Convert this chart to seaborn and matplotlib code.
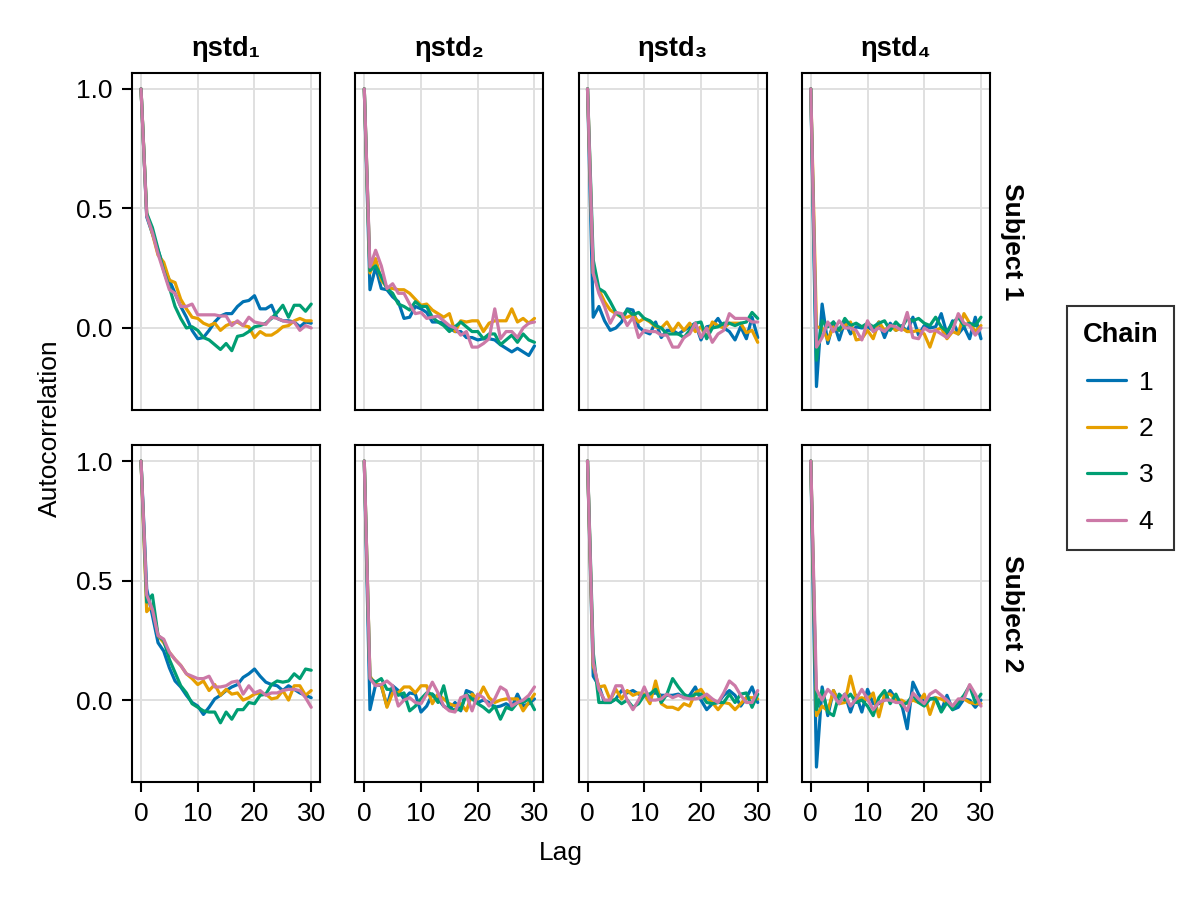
import numpy as np
import pandas as pd
import matplotlib
matplotlib.use("Agg")
import matplotlib.pyplot as plt
import seaborn as sns
from matplotlib.lines import Line2D

params = ["ηstd₁", "ηstd₂", "ηstd₃", "ηstd₄"]
subjects = ["Subject 1", "Subject 2"]
chains = ["1", "2", "3", "4"]
chain_colors = ["#0072B2", "#E69F00", "#009E73", "#CC79A7"]

# autocorrelation per chain (lag 0..30)
s1_eta1 = [
    [1.0, .465, .395, .325, .255, .2, .145, .09, .045, -.01, -.045, -.04, -.01, .025, .05, .06,
     .06, .09, .11, .115, .135, .08, .08, .095, .04, .03, .03, .025, .005, .025, .02],
    [1.0, .48, .395, .305, .275, .2, .19, .12, .08, .045, .04, .02, .01, .02, -.01, .01,
     .02, .025, .01, .005, -.04, -.015, -.03, -.03, -.015, .005, .01, .03, .04, .03, .03],
    [1.0, .48, .42, .33, .24, .17, .09, .04, .0, .005, -.01, -.04, -.05, -.07, -.09, -.065,
     -.095, -.035, -.03, -.015, .005, .01, .02, .04, .065, .095, .045, .095, .095, .07, .1],
    [1.0, .47, .40, .31, .235, .16, .145, .09, .09, .1, .055, .055, .055, .055, .05, .05,
     .01, .03, .01, .045, .025, .02, .015, .045, .04, .03, .025, .025, -.01, .01, .0],
]
s1_eta2 = [
    [1.0, .16, .255, .165, .16, .13, .11, .04, .045, .09, .08, .065, .025, .025, .02, .0,
     -.015, -.015, -.04, -.04, -.05, -.045, -.045, -.05, -.07, -.085, -.1, -.085, -.1, -.115, -.075],
    [1.0, .23, .29, .2, .17, .165, .16, .16, .145, .12, .095, .1, .075, .06, .045, .06,
     -.015, .03, .025, .03, .03, -.015, .02, .03, .03, .03, .08, .025, .04, .02, .04],
    [1.0, .24, .26, .215, .165, .145, .1, .09, .075, .11, .09, .09, .045, .025, .01, -.015,
     .005, .025, .005, -.015, -.015, -.045, -.025, -.025, -.07, -.05, -.03, -.06, -.025, -.05, -.06],
    [1.0, .255, .325, .26, .165, .185, .145, .145, .1, .06, .065, .04, .045, .05, .03, .01,
     .0, -.03, -.015, -.08, -.08, -.065, -.045, .08, -.045, -.015, -.015, -.04, .0, .02, .025],
]
s1_eta3 = [
    [1.0, .045, .09, .03, -.01, .0, .025, .08, .075, .005, -.015, -.025, .025, -.04, -.01, -.01,
     -.025, -.01, .005, .02, -.05, .005, .01, .04, .0, -.015, -.05, .005, -.045, .045, -.04],
    [1.0, .23, .16, .11, .075, .06, .045, .045, .055, .025, .04, .025, .005, .0, .025, -.015,
     .02, -.01, .02, -.015, .005, -.04, .025, .01, .0, .02, .02, .02, -.02, -.01, -.06],
    [1.0, .285, .165, .15, .11, .065, .045, .075, .055, .065, .04, .03, .01, .0, -.025, -.025,
     -.025, -.04, -.01, .02, .025, -.045, .0, .005, .02, .02, .01, .02, .025, .065, .04],
    [1.0, .23, .145, .09, .02, .065, .06, .01, .045, -.04, -.01, -.015, -.015, -.03, -.03, -.08,
     -.08, -.04, -.025, .02, -.04, .0, -.06, -.025, -.01, .06, .04, .04, .04, .025, .025],
]
s1_eta4 = [
    [1.0, -.245, .1, -.065, .025, -.05, .025, -.025, .005, .0, .005, -.01, .025, -.04, .02, -.01,
     .01, -.015, .045, -.03, .01, .0, .005, .06, -.025, .03, -.025, .005, -.045, .045, -.045],
    [1.0, .005, .0, -.05, .005, -.01, .01, .025, -.05, -.045, -.01, -.045, .025, -.01, .01, -.01,
     .0, -.015, -.015, -.01, -.025, -.08, -.01, .0, -.045, -.015, -.025, .06, .02, -.015, .01],
    [1.0, -.135, .03, .005, .025, -.01, .04, .01, .02, .005, .02, .005, .02, .03, -.01, .025,
     .0, .04, .03, .04, .02, .01, .045, .005, -.015, .02, .045, .01, .02, .01, .045],
    [1.0, -.08, -.04, .025, -.015, .03, .0, .0, -.01, -.05, .03, -.015, .0, -.015, .01, .005,
     -.01, .065, -.04, -.045, .0, -.015, -.01, -.025, -.04, -.01, .06, .02, .01, -.03, .0],
]
s2_eta1 = [
    [1.0, .465, .355, .24, .205, .135, .08, .055, .02, -.01, -.025, -.06, -.03, .005, .02, .04,
     .055, .065, .095, .11, .13, .1, .075, .065, .06, .04, .06, .045, .03, .02, .01],
    [1.0, .37, .395, .27, .24, .2, .17, .145, .11, .09, .065, .08, .04, .065, .02, .045,
     .025, .03, .0, .01, .025, .03, .025, .005, .01, .04, .0, .06, .06, .02, .04],
    [1.0, .41, .44, .27, .25, .17, .115, .06, .03, -.015, -.03, -.045, -.05, -.05, -.095, -.05,
     -.08, -.04, -.04, -.01, -.015, .02, .025, .065, .08, .075, .08, .11, .09, .13, .125],
    [1.0, .44, .38, .27, .255, .2, .17, .145, .11, .1, .09, .09, .1, .055, .055, .06,
     .075, .08, .025, .06, .03, .04, .02, .03, .03, .04, .045, .045, .04, .01, -.03],
]
s2_eta2 = [
    [1.0, -.04, .065, .06, -.025, .06, .04, .005, .03, .025, -.05, -.025, .025, .005, -.025, -.04,
     -.01, -.045, .04, .03, -.01, .0, -.01, -.03, -.025, -.015, -.03, .025, -.025, -.015, .005],
    [1.0, .1, .065, .065, -.03, .03, .03, .055, .055, .03, .06, .06, -.015, .025, .005, -.015,
     -.025, -.015, -.045, .025, .005, .055, .01, -.01, .0, .005, .005, .005, -.045, -.01, .025],
    [1.0, .09, .075, .09, .045, .045, .02, .03, -.045, -.025, .005, .03, .025, -.01, .06, -.04,
     -.04, -.04, .025, .005, -.015, -.03, -.05, -.025, -.08, -.03, -.04, -.01, -.01, .005, -.04],
    [1.0, .09, .06, .065, .08, .06, -.025, .0, .01, -.01, -.015, .025, .075, .03, -.025, -.045,
     -.05, .01, .02, -.045, .025, .01, -.025, .005, .055, .04, -.025, -.01, .0, .02, .055],
]
s2_eta3 = [
    [1.0, .1, .06, -.01, -.01, .005, .04, .03, .04, .025, .02, .025, .03, .02, .02, .02,
     .025, .01, .02, .055, .0, -.04, -.015, -.01, .02, .04, .02, -.025, .01, .055, -.01],
    [1.0, .145, .055, .06, .0, .045, .005, .04, .02, .03, .025, -.015, .08, -.015, -.03, -.03,
     -.04, -.015, -.025, .03, .045, .01, -.01, -.04, -.01, -.015, -.04, -.015, .01, .01, .005],
    [1.0, .2, -.01, -.01, -.01, .005, -.015, .0, -.03, -.015, .02, .025, .045, -.01, .025, .09,
     .055, .025, .01, .025, .025, -.01, -.015, -.01, -.01, .025, -.01, .025, .03, -.03, .025],
    [1.0, .16, .045, .0, .0, .06, .06, .0, -.04, .0, .055, .0, .0, .005, .025, .01,
     .02, .01, .005, .005, .01, .025, .005, -.01, .03, .08, .06, .02, -.01, -.01, .04],
]
s2_eta4 = [
    [1.0, -.28, .055, -.065, .04, -.01, .025, -.05, .02, -.05, .045, -.015, -.015, .0, .04, .005,
     -.015, -.12, .075, .025, -.01, .005, .01, -.045, .02, -.04, -.03, .005, .0, -.03, .0],
    [1.0, -.065, -.025, -.045, .04, -.015, -.01, .1, .005, .01, .0, .03, -.07, .025, .025, .0,
     .0, -.015, .0, -.01, .025, -.06, .01, .005, -.01, -.025, .0, .005, -.01, -.015, -.015],
    [1.0, -.04, .04, -.05, -.065, .025, .0, .025, -.01, .0, -.025, -.065, .01, .04, -.015, .025,
     -.025, -.01, .02, -.01, -.025, .005, .005, -.05, -.01, -.04, -.01, .02, .06, -.01, .025],
    [1.0, .045, .0, .045, .02, -.015, .025, -.025, .005, .045, .005, -.04, -.01, .0, .0, -.01,
     -.01, -.045, .03, .005, -.015, .025, .04, .02, .0, -.025, .005, .005, .065, .025, -.025],
]

panels = [[s1_eta1, s1_eta2, s1_eta3, s1_eta4],
          [s2_eta1, s2_eta2, s2_eta3, s2_eta4]]

rows = []
for r, subj in enumerate(subjects):
    for c, par in enumerate(params):
        for ci, vals in enumerate(panels[r][c]):
            for lag, v in enumerate(vals):
                rows.append(dict(subject=subj, param=par, chain=chains[ci], lag=lag, acf=v))
df = pd.DataFrame(rows)

sns.set_theme(style="white")
plt.rcParams["font.family"] = ["Liberation Sans", "DejaVu Sans"]
plt.rcParams["text.color"] = "black"
plt.rcParams["axes.labelcolor"] = "black"

fig, axes = plt.subplots(2, 4, figsize=(6, 4.5), dpi=200)
fig.subplots_adjust(left=0.11, right=0.825, top=0.919, bottom=0.131,
                    wspace=0.186, hspace=0.104)

for r, subj in enumerate(subjects):
    for c, par in enumerate(params):
        ax = axes[r, c]
        sub = df[(df.subject == subj) & (df.param == par)]
        sns.lineplot(data=sub, x="lag", y="acf", hue="chain", hue_order=chains,
                     palette=chain_colors, linewidth=1.15, estimator=None,
                     errorbar=None, legend=False, ax=ax)
        ax.set_xlim(-1.59, 31.59)
        ax.set_ylim(-0.343, 1.067)
        ax.set_xticks([0, 10, 20, 30])
        ax.set_yticks([0, 0.5, 1.0])
        ax.set_yticklabels(["0.0", "0.5", "1.0"])
        for sp in ax.spines.values():
            sp.set_color("black")
            sp.set_linewidth(0.75)
        ax.set_xlabel("")
        ax.set_ylabel("")
        ax.tick_params(direction="out", length=3.5, width=0.75, pad=3.5,
                       labelsize=9.5, color="black", labelcolor="black",
                       left=(c == 0), labelleft=(c == 0),
                       bottom=(r == 1), labelbottom=(r == 1))
        ax.grid(True, color="#e0e0e0", linewidth=0.72)
        ax.set_axisbelow(True)
        if r == 0:
            ax.set_title(par, fontsize=9.8, fontweight="bold", pad=6, color="black")
    axes[r, 3].text(1.055, 0.5, subj, rotation=-90, transform=axes[r, 3].transAxes,
                    ha="left", va="center", fontsize=9.5, fontweight="bold")

fig.text(50 / 1200, 1 - 428 / 900, "Autocorrelation", rotation=90,
         ha="center", va="center", fontsize=9.5)
fig.text(561 / 1200, 1 - 853 / 900, "Lag", ha="center", va="center", fontsize=9.5)

handles = [Line2D([], [], color=col, linewidth=1.15) for col in chain_colors]
leg = fig.legend(handles, chains, title="Chain", loc="center left",
                 bbox_to_anchor=(0.878, 0.5244), frameon=True, fancybox=False,
                 edgecolor="black", fontsize=9.5, handlelength=1.45,
                 handletextpad=0.5, labelspacing=0.85, borderpad=0.6,
                 title_fontproperties={"weight": "bold", "size": 9.8})
leg.get_frame().set_linewidth(0.75)
leg._legend_box.sep = 8

fig.savefig("out.png", dpi=200)
